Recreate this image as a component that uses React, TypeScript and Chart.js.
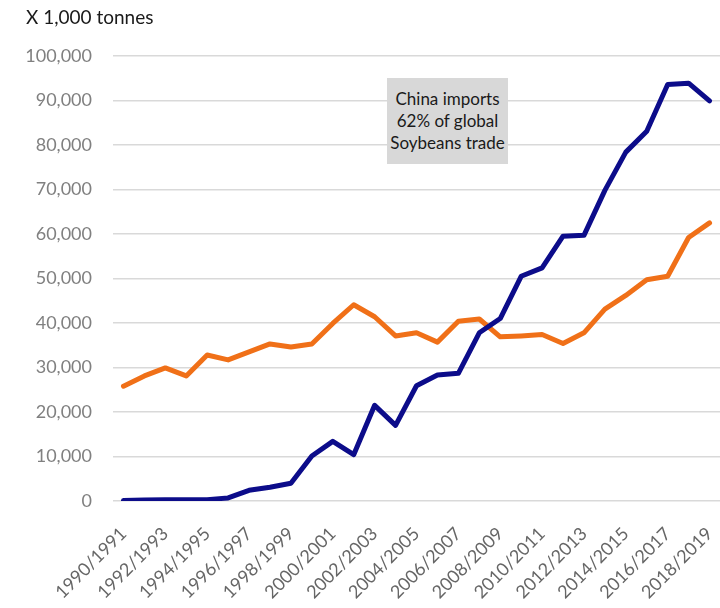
import React, { useEffect, useRef } from "react";
import { Chart, registerables } from "chart.js";

Chart.register(...registerables);

const categories: string[] = [
  "1990/1991", "1991/1992", "1992/1993", "1993/1994", "1994/1995", "1995/1996",
  "1996/1997", "1997/1998", "1998/1999", "1999/2000", "2000/2001", "2001/2002",
  "2002/2003", "2003/2004", "2004/2005", "2005/2006", "2006/2007", "2007/2008",
  "2008/2009", "2009/2010", "2010/2011", "2011/2012", "2012/2013", "2013/2014",
  "2014/2015", "2015/2016", "2016/2017", "2017/2018", "2018/2019",
];

const chinaImports: number[] = [
  100, 200, 300, 300, 300, 700, 2400, 3100, 4000, 10100, 13400, 10400, 21500,
  17000, 25900, 28300, 28700, 37800, 41000, 50500, 52400, 59500, 59700, 69800,
  78400, 83100, 93600, 93900, 89900,
];

const restOfWorld: number[] = [
  25800, 28100, 29900, 28100, 32800, 31700, 33500, 35300, 34600, 35300, 39900,
  44100, 41400, 37100, 37800, 35700, 40400, 40900, 36900, 37100, 37400, 35400,
  37800, 43100, 46200, 49700, 50500, 59200, 62500,
];

const yTicks: number[] = [0, 10000, 20000, 30000, 40000, 50000, 60000, 70000, 80000, 90000, 100000];

const titleText = "X 1,000 tonnes";
const noteLines: string[] = ["China imports", "62% of global", "Soybeans trade"];

export default function App() {
  const canvasRef = useRef<HTMLCanvasElement | null>(null);

  useEffect(() => {
    const canvas = canvasRef.current;
    if (!canvas) return;
    const chart = new Chart(canvas, {
      type: "line",
      data: {
        labels: categories,
        datasets: [
          {
            label: "China",
            data: chinaImports,
            borderColor: "#0c0c8a",
            backgroundColor: "#0c0c8a",
            borderWidth: 5,
            pointRadius: 0,
            tension: 0,
            borderJoinStyle: "round",
            borderCapStyle: "round",
          },
          {
            label: "Rest of world",
            data: restOfWorld,
            borderColor: "#f07018",
            backgroundColor: "#f07018",
            borderWidth: 5,
            pointRadius: 0,
            tension: 0,
            borderJoinStyle: "round",
            borderCapStyle: "round",
          },
        ],
      },
      options: {
        animation: false,
        responsive: true,
        maintainAspectRatio: false,
        layout: { padding: { top: 56, right: -3, bottom: 0, left: 0 } },
        plugins: {
          legend: { display: false },
          tooltip: { enabled: false },
          title: { display: false },
        },
        scales: {
          x: {
            type: "category",
            offset: true,
            grid: { display: false, drawTicks: false },
            border: { display: false },
            afterFit: (scale: any) => {
              scale.height = 107;
              scale.paddingLeft = 0;
              scale.paddingRight = 0;
            },
            ticks: {
              autoSkip: false,
              maxRotation: 45,
              minRotation: 45,
              padding: 22,
              color: "#666666",
              font: { family: "Lato", size: 18 },
              callback: (_v: any, i: number) => (i % 2 === 0 ? categories[i] : ""),
            },
          },
          y: {
            min: 0,
            max: 100000,
            afterFit: (scale: any) => {
              scale.width = 113;
            },
            afterBuildTicks: (scale: any) => {
              scale.ticks = yTicks.map((v) => ({ value: v }));
            },
            grid: { color: "#d9d9d9", lineWidth: 1.5, drawTicks: false },
            border: { display: false },
            ticks: {
              padding: 21,
              color: "#808080",
              font: { family: "Lato", size: 18 },
              callback: (v: any) => Number(v).toLocaleString("en-US"),
            },
          },
        },
      },
    });
    return () => chart.destroy();
  }, []);

  return (
    <div style={{ position: "absolute", left: 0, top: 0, width: 720, height: 608, background: "#ffffff", overflow: "hidden" }}>
      <canvas ref={canvasRef} />
      <div
        style={{
          position: "absolute",
          left: 26,
          top: 5,
          fontFamily: "Lato",
          fontSize: 19,
          lineHeight: "24px",
          color: "#1a1a1a",
          whiteSpace: "nowrap",
        }}
      >
        {titleText}
      </div>
      <div
        style={{
          position: "absolute",
          left: 387,
          top: 78,
          width: 121,
          height: 86,
          boxSizing: "border-box",
          paddingTop: 10,
          background: "#d8d8d8",
          fontFamily: "Lato",
          fontSize: 17,
          lineHeight: "22px",
          color: "#1a1a1a",
          textAlign: "center",
          whiteSpace: "nowrap",
        }}
      >
        {noteLines.map((l) => (
          <div key={l}>{l}</div>
        ))}
      </div>
    </div>
  );
}
